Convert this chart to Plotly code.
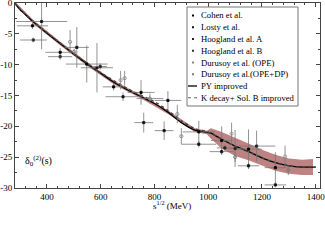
import plotly.graph_objects as go

# ---------------- data ----------------
# PY improved curve
curve_x = [280, 290, 300, 320, 350, 400, 450, 500, 550, 600, 650, 700, 750, 800,
           850, 900, 950, 1000, 1010, 1050, 1100, 1150, 1200, 1250, 1300, 1350, 1400]
curve_y = [0.0, -0.6, -1.1, -1.9, -3.1, -4.9, -6.6, -8.3, -9.9, -11.4, -12.9, -14.1,
           -15.2, -16.3, -17.7, -19.4, -20.6, -21.0, -21.1, -22.1, -23.2, -24.1, -25.1,
           -25.9, -26.4, -26.6, -26.6]
# K decay + Sol. B improved (dotted)
kdec_x = [280, 300, 350, 400, 500, 600, 700, 800, 850, 900, 950, 1000, 1050, 1100,
          1150, 1200, 1250, 1300, 1350, 1400]
kdec_y = [0.0, -1.0, -3.0, -4.8, -8.2, -11.3, -13.9, -16.0, -17.4, -19.1, -20.4, -20.9,
          -22.1, -23.2, -24.1, -25.1, -25.9, -26.4, -26.6, -26.6]
# uncertainty band
band_x = [282, 350, 450, 550, 650, 750, 850, 950, 995, 1010, 1050, 1100, 1150, 1200,
          1250, 1300, 1350, 1390]
band_hi = [0.2, -2.8, -6.3, -9.6, -12.6, -14.9, -17.4, -20.3, -20.7, -20.3, -20.9, -21.8,
           -22.8, -23.8, -24.6, -25.2, -25.4, -25.3]
band_lo = [-0.3, -3.4, -6.9, -10.2, -13.2, -15.5, -18.0, -20.9, -21.3, -22.0, -23.6, -24.8,
           -25.5, -26.4, -27.2, -27.7, -27.9, -27.9]

cohen_x = [346, 449, 548, 648, 750, 850, 965, 1050, 1150, 1250]
cohen_y = [-3.7, -8.0, -9.9, -13.6, -14.5, -15.8, -20.9, -22.3, -23.7, -26.7]
cohen_ex = [58, 55, 78, 40, 50, 50, 60, 40, 50, 40]
cohen_ey = [0.5, 0.7, 3.0, 0.6, 2.0, 1.5, 1.8, 2.3, 3.2, 2.5]

losty_x = [380, 511, 586, 683, 760, 836, 965, 1050, 1150, 1250]
losty_y = [-3.0, -7.2, -10.5, -15.2, -19.4, -20.7, -22.9, -24.1, -26.4, -29.5]
losty_ex = [95, 45, 60, 65, 35, 35, 65, 45, 40, 40]
losty_ey = [4.5, 3.3, 4.0, 0.7, 1.6, 1.5, 0.5, 0.5, 0.5, 0.4]

hoogA_x = [598, 1062, 1100, 1180]
hoogA_y = [-10.3, -23.5, -23.6, -23.2]
hoogA_ex = [25, 30, 20, 70]
hoogA_ey = [0.5, 0.5, 3.0, 2.5]

hoogB_x = [349, 449]
hoogB_y = [-6.0, -8.7]
hoogB_ex = [50, 45]
hoogB_ey = [0.4, 0.5]

durO_x = [486, 674, 885, 1087, 1286]
durO_y = [-6.3, -12.5, -18.0, -21.2, -24.9]
durO_ey = [1.9, 1.5, 1.5, 1.8, 1.8]

durD_x = [501, 689, 783, 900, 1100, 1298]
durD_y = [-7.9, -12.2, -15.5, -21.6, -25.0, -27.1]
durD_ex = [0, 0, 50, 0, 0, 0]
durD_ey = [0.5, 1.2, 0.8, 1.3, 0.8, 0.8]

legend_names = ["Cohen et al.", "Losty et al.", "Hoogland et al. A", "Hoogland et al. B",
                "Durusoy et al. (OPE)", "Durusoy et al.(OPE+DP)", "PY improved",
                "K decay+ Sol. B improved"]

x_ticks = [400, 600, 800, 1000, 1200, 1400]
y_ticks = [0, -5, -10, -15, -20, -25, -30]

# ---------------- figure ----------------
FONT = "Liberation Serif"
fig = go.Figure()

band_col = "#bd8282"
fig.add_trace(go.Scatter(x=band_x, y=band_hi, mode="lines", line=dict(width=0, color=band_col),
                         showlegend=False, hoverinfo="skip"))
fig.add_trace(go.Scatter(x=band_x, y=band_lo, mode="lines", line=dict(width=0, color=band_col),
                         fill="tonexty", fillcolor=band_col, showlegend=False, hoverinfo="skip"))

fig.add_trace(go.Scatter(x=curve_x, y=curve_y, mode="lines",
                         line=dict(color="black", width=1.3, shape="spline", smoothing=0.5),
                         showlegend=False))
fig.add_trace(go.Scatter(x=kdec_x, y=kdec_y, mode="lines",
                         line=dict(color="#444", width=1.4, dash="dot", shape="spline", smoothing=0.5),
                         showlegend=False))

errc = "#777777"

def pts(x, y, ex, ey, sym, col, size):
    fig.add_trace(go.Scatter(
        x=x, y=y, mode="markers",
        marker=dict(symbol=sym, color=col, size=size, line=dict(color=col, width=0.8)),
        error_x=dict(type="data", array=ex, color=errc, thickness=0.8, width=0) if ex is not None else None,
        error_y=dict(type="data", array=ey, color=errc, thickness=0.8, width=0),
        showlegend=False))

pts(cohen_x, cohen_y, cohen_ex, cohen_ey, "square", "black", 2.2)
pts(losty_x, losty_y, losty_ex, losty_ey, "square", "#111", 2.2)
pts(hoogA_x, hoogA_y, hoogA_ex, hoogA_ey, "square", "#222", 2.2)
pts(hoogB_x, hoogB_y, hoogB_ex, hoogB_ey, "square", "#333", 2.2)
pts(durO_x, durO_y, None, durO_ey, "circle-open", "#888", 3.2)
pts(durD_x, durD_y, durD_ex, durD_ey, "circle-open", "#777", 3.2)

# plot area geometry (px)
L, R, T, B = 15, 5, 3, 63
W, H = 325, 251
pw, ph = W - L - R, H - T - B

def px2paper(xp, yp):
    return (xp - L) / pw, (H - B - yp) / ph

shapes = []
annotations = []
# legend box
bx0, by1 = px2paper(187, 7)
bx1, by0 = px2paper(298, 106)
shapes.append(dict(type="rect", xref="paper", yref="paper", x0=bx0, x1=bx1, y0=by0, y1=by1,
                   line=dict(color="#777", width=1), fillcolor="white", layer="above"))
sym_cols = ["black", "#111", "#222", "#333", "#888", "#777"]
for i, name in enumerate(legend_names):
    yp = 15.5 + 11.75 * i
    tx, ty = px2paper(199, yp)
    annotations.append(dict(text=name, x=tx, y=ty, xref="paper", yref="paper", xanchor="left",
                            yanchor="middle", showarrow=False, font=dict(family=FONT, size=8.7, color="black")))
    if i < 6:
        sx0, sy0 = px2paper(192, yp + 1)
        sx1, sy1 = px2paper(194, yp - 1)
        shapes.append(dict(type="rect", xref="paper", yref="paper", x0=sx0, x1=sx1, y0=sy0, y1=sy1,
                           line=dict(width=0), fillcolor=sym_cols[i], layer="above"))
    else:
        lx0, ly = px2paper(188, yp)
        lx1, _ = px2paper(197, yp)
        shapes.append(dict(type="line", xref="paper", yref="paper", x0=lx0, x1=lx1, y0=ly, y1=ly,
                           line=dict(color="black" if i == 6 else "#666", width=1.3 if i == 6 else 1,
                                     dash="solid" if i == 6 else "dot"), layer="above"))

# axis titles
ax, ay = px2paper(151, 205)
annotations.append(dict(text="s<sup>1/2</sup> (MeV)", x=ax, y=ay, xref="paper", yref="paper",
                        xanchor="left", yanchor="middle", showarrow=False,
                        font=dict(family=FONT, size=9, color="black")))
yx, yy = px2paper(23, 161)
annotations.append(dict(text="δ<sub>0</sub><sup>(2)</sup>(s)", x=yx, y=yy, xref="paper", yref="paper",
                        xanchor="left", yanchor="middle", showarrow=False,
                        font=dict(family=FONT, size=10, color="black")))

axis_common = dict(showgrid=False, zeroline=False, showline=True, linecolor="#444", linewidth=1,
                   mirror="allticks", ticks="inside", ticklen=4, tickcolor="#444", automargin=False,
                   ticklabeloverflow="allow",
                   tickfont=dict(family=FONT, size=9, color="black"))
fig.update_xaxes(range=[281, 1416], tickvals=x_ticks, ticktext=[str(v) for v in x_ticks],
                 minor=dict(dtick=40, tick0=400, ticklen=2, ticks="inside", tickcolor="#444"),
                 **axis_common)
fig.update_yaxes(range=[-30, 0], tickvals=y_ticks, ticktext=[str(v) for v in y_ticks],
                 minor=dict(dtick=2.5, tick0=0, ticklen=2, ticks="inside", tickcolor="#444"),
                 **axis_common)

fig.update_layout(width=W, height=H, margin=dict(l=L, r=R, t=T, b=B, pad=0, autoexpand=False),
                  plot_bgcolor="white", paper_bgcolor="white", showlegend=False,
                  shapes=shapes, annotations=annotations, font=dict(family=FONT))

fig.write_html("out.html", config={"displayModeBar": False},
               post_script="document.body.style.margin='0';document.body.style.padding='0';")
